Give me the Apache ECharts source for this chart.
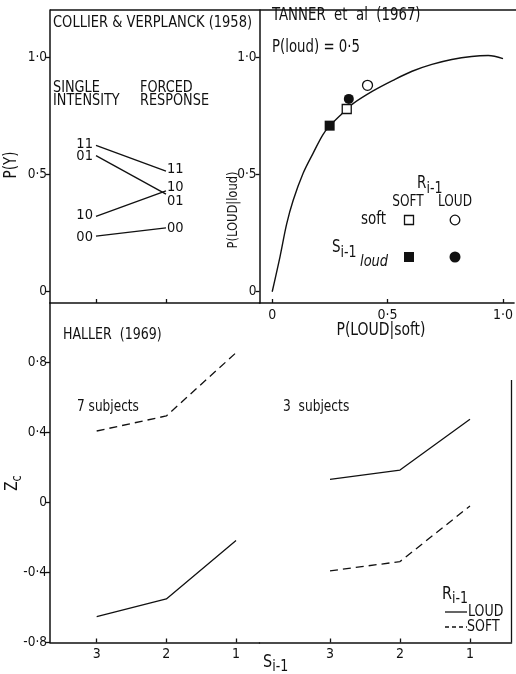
<!DOCTYPE html>
<html>
<head>
<meta charset="utf-8">
<script src="https://cdn.jsdelivr.net/npm/echarts@6/dist/echarts.min.js"></script>
<style>html,body{margin:0;padding:0;background:#fff}#c{width:516px;height:674px}</style>
</head>
<body>
<div id="c"></div>
<script>
// ---------- data ----------
const collierCodes = ['11', '01', '10', '00'];
const collierColumns = ['SINGLE\nINTENSITY', 'FORCED\nRESPONSE'];
const collierSingle = [0.624, 0.580, 0.321, 0.237];
const collierForced = [0.514, 0.416, 0.430, 0.272];
const pTicks = [0, 0.5, 1];

const tannerCurveX = [0, 0.034, 0.063, 0.091, 0.134, 0.177, 0.22, 0.25, 0.30, 0.349, 0.435, 0.521, 0.606, 0.692, 0.778, 0.864, 0.936, 1.0];
const tannerCurveY = [0, 0.15, 0.29, 0.39, 0.505, 0.59, 0.67, 0.708, 0.757, 0.801, 0.855, 0.900, 0.940, 0.969, 0.990, 1.003, 1.007, 0.994];
const tannerSoftSoft = [0.323, 0.779];
const tannerSoftLoud = [0.413, 0.880];
const tannerLoudSoft = [0.249, 0.708];
const tannerLoudLoud = [0.332, 0.822];

const sPrev = [3, 2, 1];
const haller7Loud = [-0.652, -0.551, -0.218];
const haller7Soft = [0.408, 0.494, 0.855];
const haller3Loud = [0.132, 0.185, 0.475];
const haller3Soft = [-0.391, -0.338, -0.02];
const zTicks = [-0.8, -0.4, 0, 0.4, 0.8];
const responseNames = ['LOUD', 'SOFT'];

// ---------- styling ----------
const FONT = "'DejaVu Sans Condensed','DejaVu Sans',sans-serif";
const INK = '#111';
const SY = 1.15;
const F = (s, extra) => (extra ? extra + ' ' : '') + s + 'px ' + FONT;
const fmt = v => v === 0 ? '0' : (v < 0 ? '-' : '') + Math.abs(v).toFixed(1).replace('.', '·');
const axisLine = { show: true, onZero: false, lineStyle: { color: INK, width: 1.5 } };
const txt = { fontFamily: FONT, color: INK };

function T(x, y, text, size, o) {
  o = o || {};
  return {
    type: 'text', x, y, rotation: o.rot || 0, scaleY: SY,
    style: Object.assign({ text, font: F(size, o.extra), fill: INK, textAlign: o.align || 'left', textVerticalAlign: o.valign || 'middle' }, o.style || {})
  };
}
function sub(x, y, main, s, size, subSize, o) {
  o = o || {};
  return {
    type: 'text', x, y, rotation: o.rot || 0, scaleY: SY,
    style: { text: '{b|' + main + '}{s|' + s + '}', textAlign: o.align || 'left', textVerticalAlign: 'middle',
      rich: { b: { font: F(size), fill: INK }, s: { font: F(subSize), fill: INK, padding: [o.drop || 8, 0, 0, 0] } } }
  };
}

function yAx(grid, min, max, ticks, show) {
  return {
    type: 'value', gridIndex: grid, min, max, splitLine: { show: false },
    axisLine: show ? axisLine : { show: false, onZero: false },
    axisTick: show ? { show: true, customValues: ticks, length: 4, lineStyle: { color: INK, width: 1.3 } } : { show: false },
    axisLabel: show ? { show: true, customValues: ticks, formatter: fmt, margin: 3, fontSize: 13.5, ...txt } : { show: false }
  };
}
function xAx(grid, min, max, ticks, labels, inverse, fmtFn) {
  return {
    type: 'value', gridIndex: grid, min, max, inverse: !!inverse, splitLine: { show: false },
    axisLine,
    axisTick: { show: true, inside: true, customValues: ticks, length: 4, lineStyle: { color: INK, width: 1.3 } },
    axisLabel: labels ? { show: true, customValues: ticks, formatter: fmtFn, margin: 5, fontSize: 14, ...txt } : { show: false }
  };
}

const collierSeries = collierCodes.map((code, i) => {
  const lOff = [[0, -1], [0, 1], [0, -1], [0, 1]][i];
  const rOff = [[0, -2], [0, 7], [0, -4], [0, 0]][i];
  return {
    type: 'line', xAxisIndex: 0, yAxisIndex: 0, symbol: 'circle', symbolSize: 0.1, silent: true,
    lineStyle: { color: INK, width: 1.3 }, itemStyle: { color: 'rgba(0,0,0,0)' },
    data: [
      { value: [1, collierSingle[i]], label: { show: true, position: 'left', distance: 3, offset: lOff, formatter: code, fontSize: 14.5, ...txt } },
      { value: [2, collierForced[i]], label: { show: true, position: 'right', distance: 1, offset: rOff, formatter: code, fontSize: 14.5, ...txt } }
    ]
  };
});

function hallerLine(grid, name, vals, dashed) {
  return {
    type: 'line', name, xAxisIndex: grid, yAxisIndex: grid, symbol: 'none', silent: true,
    lineStyle: { color: INK, width: 1.3, type: dashed ? [8, 5] : 'solid' },
    data: sPrev.map((s, i) => [s, vals[i]])
  };
}

const option = {
  animation: false,
  backgroundColor: '#fff',
  grid: [
    { left: 50, top: 10, width: 209.5, height: 293 },
    { left: 259.5, top: 10, width: 256.5, height: 293 },
    { left: 50, top: 303, width: 209.5, height: 339.5 },
    { left: 259.5, top: 303, width: 252, height: 339.5 }
  ],
  xAxis: [
    xAx(0, 0.343, 3.336, [1, 2], false),
    xAx(1, -0.055, 1.048, pTicks, true, false, fmt),
    xAx(2, 0.663, 3.67, sPrev, true, true, v => String(v)),
    xAx(3, 0.407, 4.007, sPrev, true, true, v => String(v))
  ],
  yAxis: [
    yAx(0, -0.048, 1.201, pTicks, true),
    yAx(1, -0.048, 1.201, pTicks, true),
    yAx(2, -0.8, 1.139, zTicks, true),
    yAx(3, -0.8, 1.139, zTicks, false)
  ],
  series: [
    ...collierSeries,
    {
      type: 'line', xAxisIndex: 1, yAxisIndex: 1, symbol: 'none', smooth: 0.35, silent: true,
      lineStyle: { color: INK, width: 1.4 },
      data: tannerCurveX.map((x, i) => [x, tannerCurveY[i]]), z: 2
    },
    { type: 'scatter', xAxisIndex: 1, yAxisIndex: 1, symbol: 'rect', symbolSize: 10, z: 5,
      itemStyle: { color: INK, opacity: 1 }, data: [tannerLoudSoft] },
    { type: 'scatter', xAxisIndex: 1, yAxisIndex: 1, symbol: 'rect', symbolSize: 9, z: 4,
      itemStyle: { color: '#fff', borderColor: INK, borderWidth: 1.3, opacity: 1 }, data: [tannerSoftSoft] },
    { type: 'scatter', xAxisIndex: 1, yAxisIndex: 1, symbol: 'circle', symbolSize: 10, z: 5,
      itemStyle: { color: INK, opacity: 1 }, data: [tannerLoudLoud] },
    { type: 'scatter', xAxisIndex: 1, yAxisIndex: 1, symbol: 'circle', symbolSize: 10, z: 4,
      itemStyle: { color: '#fff', borderColor: INK, borderWidth: 1.3, opacity: 1 }, data: [tannerSoftLoud] },
    hallerLine(2, responseNames[1], haller7Soft, true),
    hallerLine(2, responseNames[0], haller7Loud, false),
    hallerLine(3, responseNames[0], haller3Loud, false),
    hallerLine(3, responseNames[1], haller3Soft, true)
  ],
  graphic: [
    { type: 'line', shape: { x1: 50, y1: 10, x2: 516, y2: 10 }, style: { stroke: INK, lineWidth: 1.5 } },
    { type: 'line', shape: { x1: 511.5, y1: 380, x2: 511.5, y2: 642.5 }, style: { stroke: INK, lineWidth: 1.3 } },
    T(53, 23, 'COLLIER & VERPLANCK (1958)', 14.5),
    T(53, 81, collierColumns[0], 14.3, { valign: 'top', style: { lineHeight: 11.5 } }),
    T(140, 81, collierColumns[1], 14.3, { valign: 'top', style: { lineHeight: 11.5 } }),
    T(12, 165, 'P(Y)', 15, { rot: Math.PI / 2, align: 'center' }),
    T(272, 16, 'TANNER  et  al  (1967)', 14.8),
    T(272, 48, 'P(loud) = 0·5', 14.8),
    T(233, 210, 'P(LOUD|loud)', 12.8, { rot: Math.PI / 2, align: 'center' }),
    T(381, 330, 'P(LOUD|soft)', 15.5, { align: 'center' }),
    sub(417, 184, 'R', 'i-1', 15, 14, { drop: 9 }),
    T(408, 202, 'SOFT', 13.5, { align: 'center' }),
    T(455, 202, 'LOUD', 13.5, { align: 'center' }),
    T(386, 220, 'soft', 15, { align: 'right' }),
    sub(332, 248, 'S', 'i-1', 15, 14, { drop: 8 }),
    T(360, 262, 'loud', 14.5, { extra: 'italic' }),
    { type: 'rect', shape: { x: 404.5, y: 215.5, width: 9, height: 9 }, style: { fill: '#fff', stroke: INK, lineWidth: 1.3 } },
    { type: 'circle', shape: { cx: 455, cy: 220, r: 4.8 }, style: { fill: '#fff', stroke: INK, lineWidth: 1.3 } },
    { type: 'rect', shape: { x: 404, y: 252, width: 10, height: 10 }, style: { fill: INK } },
    { type: 'circle', shape: { cx: 455, cy: 257, r: 5.5 }, style: { fill: INK } },
    T(63, 335, 'HALLER  (1969)', 14),
    T(77, 407, '7 subjects', 13.5),
    T(283, 407, '3  subjects', 13.6),
    sub(13, 483, 'Z', 'c', 15, 12.5, { rot: Math.PI / 2, align: 'center', drop: 7 }),
    sub(263, 662, 'S', 'i-1', 16, 14, { drop: 8 }),
    sub(442, 594, 'R', 'i-1', 16, 14, { drop: 8 }),
    { type: 'line', shape: { x1: 445, y1: 612, x2: 467, y2: 612 }, style: { stroke: INK, lineWidth: 1.3 } },
    T(468, 612, responseNames[0], 14),
    { type: 'line', shape: { x1: 445, y1: 627, x2: 467, y2: 627 }, style: { stroke: INK, lineWidth: 1.3, lineDash: [4, 3] } },
    T(467, 627, responseNames[1], 14)
  ]
};

const chart = echarts.init(document.getElementById('c'), null, { renderer: 'canvas' });
chart.setOption(option);
</script>
</body>
</html>
